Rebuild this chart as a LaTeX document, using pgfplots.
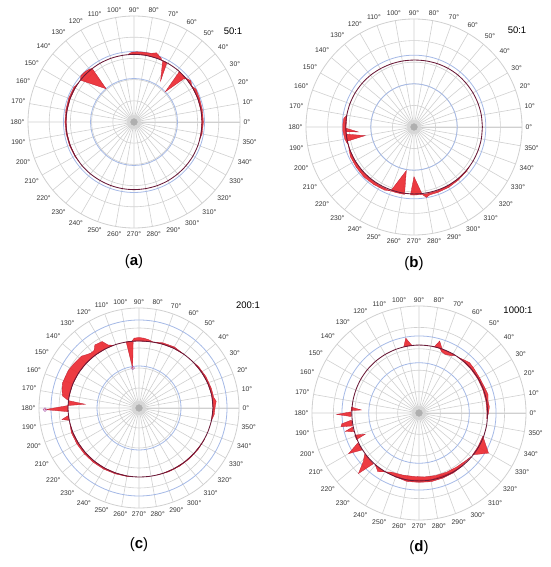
\documentclass[border=0pt]{standalone}
\usepackage{fontspec}
\setmainfont{Liberation Sans}
\usepackage{pgfplots}
\pgfplotsset{compat=1.18}
\usepgfplotslibrary{polar}
\definecolor{redfill}{RGB}{235,38,45}
\definecolor{rededge}{RGB}{190,30,50}
\definecolor{ringcol}{RGB}{105,25,55}
\definecolor{bluegrid}{RGB}{165,185,230}
\definecolor{greygrid}{RGB}{208,208,208}
\definecolor{blobA}{RGB}{215,215,215}
\definecolor{blobB}{RGB}{175,175,175}
\pgfplotsset{
  panel/.style={
    anchor=center, scale only axis,
    ymin=0, ymax=1,
    xtick={0,10,...,350},
    xticklabel={\pgfmathprintnumber{\tick}°},
    ytick={0.2,0.4,0.6,0.8},
    yticklabels={},
    grid=major,
    major grid style={greygrid, line width=0.6pt},
    axis line style={greygrid, line width=0.8pt},
    major tick length=0pt,
    tick label style={font=\fontsize{6.8}{7}\selectfont, text=black!80},
    /pgf/number format/assume math mode=true,
    extra y tick labels={},
    extra y tick style={grid=major, major grid style={bluegrid, line width=0.8pt}},
    clip=false,
  },
  dev/.style={fill=redfill, draw=rededge, line width=0.3pt, fill opacity=0.9},
  ring/.style={ringcol, line width=0.85pt, smooth},
  blob/.style={only marks, mark=*, color=blobA, mark size=6.5pt},
  blob2/.style={only marks, mark=*, color=blobB, mark size=3.4pt},
  tipmark/.style={only marks, mark=o, mark size=1.8pt, mark options={draw=violet!60, line width=0.5pt}},
}
\begin{document}
\begin{tikzpicture}
\useasboundingbox (0,0) rectangle (550pt,567pt);

% ---------------- (a) ----------------
\begin{polaraxis}[panel, at={(134pt,445pt)}, width=212pt, height=212pt,
  extra y ticks={0.41,0.665}]
\addplot[blob] coordinates {(0,0)};
\addplot[blob2] coordinates {(0,0)};
\addplot[dev] coordinates {(95,0.64) (92,0.658) (88,0.662) (84,0.664) (80,0.665) (76,0.668) (72,0.686) (70,0.672) (67,0.655) (66,0.64) (70,0.64) (80,0.64) (90,0.64) (95,0.64)};
\addplot[dev] coordinates {(65,0.64) (57,0.46) (61,0.64) (65,0.64)};
\addplot[dev] coordinates {(48,0.64) (44,0.41) (41,0.62) (39,0.648) (36,0.662) (33,0.648) (30,0.64) (40,0.64) (48,0.64)};
\addplot[dev] coordinates {(128,0.64) (130,0.41) (142,0.64) (139,0.665) (134,0.662) (130,0.652) (128,0.64)};
\addplot[dev] coordinates {(145,0.64) (150,0.655) (160,0.656) (170,0.653) (180,0.652) (190,0.65) (200,0.648) (210,0.645) (215,0.64) (210,0.64) (200,0.64) (190,0.64) (180,0.64) (170,0.64) (160,0.64) (150,0.64) (145,0.64)};
\addplot[dev] coordinates {(-15,0.64) (-10,0.652) (0,0.655) (10,0.655) (20,0.657) (28,0.662) (32,0.64) (30,0.64) (20,0.64) (10,0.64) (0,0.64) (-10,0.64) (-15,0.64)};
\addplot[ring] coordinates {(0,0.642) (10,0.642) (20,0.641) (30,0.64) (40,0.64) (50,0.64) (60,0.639) (70,0.638) (80,0.638) (90,0.638) (100,0.638) (110,0.639) (120,0.64) (130,0.64) (140,0.641) (150,0.642) (160,0.642) (170,0.642) (180,0.642) (190,0.642) (200,0.641) (210,0.64) (220,0.64) (230,0.639) (240,0.638) (250,0.638) (260,0.638) (270,0.638) (280,0.638) (290,0.639) (300,0.64) (310,0.64) (320,0.641) (330,0.642) (340,0.642) (350,0.642) (360,0.642)};
\end{polaraxis}

% ---------------- (b) ----------------
\begin{polaraxis}[panel, at={(414pt,440pt)}, width=216pt, height=216pt,
  extra y ticks={0.40,0.665}]
\addplot[blob] coordinates {(0,0)};
\addplot[blob2] coordinates {(0,0)};
\addplot[dev] coordinates {(170,0.63) (173,0.655) (178,0.66) (183,0.66) (186,0.655) (190,0.65) (193,0.64) (195,0.63) (190,0.63) (180,0.63) (170,0.63)};
\addplot[dev] coordinates {(181,0.63) (185,0.52) (184,0.63) (181,0.63)};
\addplot[dev] coordinates {(186,0.63) (190,0.46) (192,0.63) (186,0.63)};
\addplot[dev] coordinates {(195,0.63) (205,0.65) (215,0.652) (225,0.655) (235,0.65) (245,0.645) (250,0.63) (240,0.63) (230,0.63) (220,0.63) (210,0.63) (200,0.63) (195,0.63)};
\addplot[dev] coordinates {(250,0.63) (260,0.41) (262,0.63) (255,0.63) (250,0.63)};
\addplot[dev] coordinates {(267,0.63) (270,0.46) (277,0.63) (270,0.63) (267,0.63)};
\addplot[dev] coordinates {(277,0.63) (280,0.662) (283,0.645) (290,0.645) (300,0.645) (310,0.64) (320,0.636) (325,0.63) (320,0.63) (310,0.63) (300,0.63) (290,0.63) (280,0.63) (277,0.63)};
\addplot[ring] coordinates {(0,0.633) (10,0.633) (20,0.632) (30,0.631) (40,0.63) (50,0.63) (60,0.628) (70,0.625) (80,0.622) (90,0.62) (100,0.62) (110,0.621) (120,0.623) (130,0.626) (140,0.628) (150,0.63) (160,0.631) (170,0.632) (180,0.632) (190,0.631) (200,0.63) (210,0.628) (220,0.626) (230,0.624) (240,0.622) (250,0.62) (260,0.62) (270,0.62) (280,0.621) (290,0.623) (300,0.626) (310,0.628) (320,0.63) (330,0.631) (340,0.632) (350,0.633) (360,0.633)};
\end{polaraxis}

% ---------------- (c) ----------------
\begin{polaraxis}[panel, at={(139pt,159pt)}, width=200pt, height=200pt,
  extra y ticks={0.42,0.88}]
\addplot[blob] coordinates {(0,0)};
\addplot[blob2] coordinates {(0,0)};
\addplot[dev] coordinates {(95,0.671) (99,0.405) (101,0.673) (95,0.671)};
\addplot[dev] coordinates {(78,0.675) (82,0.69) (86,0.70) (90,0.705) (94,0.70) (96,0.672) (90,0.67) (80,0.672) (78,0.675)};
\addplot[dev] coordinates {(50,0.70) (60,0.706) (70,0.694) (78,0.675) (70,0.68) (60,0.69) (50,0.70)};
\addplot[dev] coordinates {(112,0.677) (116,0.70) (119,0.76) (125,0.77) (128,0.73) (131,0.73) (134,0.745) (138,0.775) (142,0.78) (147,0.79) (152,0.80) (157,0.80) (162,0.805) (167,0.79) (171,0.775) (173,0.73) (174,0.709) (170,0.708) (160,0.704) (150,0.698) (140,0.692) (130,0.686) (120,0.68) (112,0.677)};
\addplot[dev] coordinates {(174,0.709) (176,0.54) (178,0.71) (174,0.709)};
\addplot[dev] coordinates {(178,0.71) (181,0.94) (183,0.71) (178,0.71)};
\addplot[dev] coordinates {(186,0.709) (188.5,0.78) (190,0.708) (186,0.709)};
\addplot[dev] coordinates {(-10,0.735) (-5,0.755) (0,0.76) (5,0.775) (8,0.755) (15,0.75) (25,0.74) (35,0.725) (40,0.71) (30,0.72) (20,0.73) (10,0.738) (0,0.74) (-10,0.735)};
\addplot[dev] coordinates {(192,0.708) (200,0.72) (210,0.718) (220,0.714) (230,0.71) (240,0.706) (250,0.70) (260,0.695) (265,0.69) (260,0.69) (250,0.69) (240,0.692) (230,0.694) (220,0.697) (210,0.70) (200,0.705) (192,0.708)};
\addplot[dev] coordinates {(285,0.694) (295,0.704) (305,0.71) (315,0.716) (325,0.722) (335,0.728) (330,0.72) (320,0.712) (310,0.706) (300,0.70) (290,0.696) (285,0.694)};
\addplot[tipmark] coordinates {(99,0.405) (181,0.94)};
\addplot[ring] coordinates {(0,0.74) (10,0.738) (20,0.73) (30,0.72) (40,0.71) (50,0.70) (60,0.69) (70,0.68) (80,0.672) (90,0.67) (100,0.672) (110,0.676) (120,0.68) (130,0.686) (140,0.692) (150,0.698) (160,0.704) (170,0.708) (180,0.71) (190,0.708) (200,0.705) (210,0.70) (220,0.697) (230,0.694) (240,0.692) (250,0.69) (260,0.69) (270,0.69) (280,0.692) (290,0.696) (300,0.70) (310,0.706) (320,0.712) (330,0.72) (340,0.728) (350,0.735) (360,0.74)};
\end{polaraxis}

% ---------------- (d) ----------------
\begin{polaraxis}[panel, at={(419pt,154pt)}, width=214pt, height=214pt,
  extra y ticks={0.47,0.72}]
\addplot[blob] coordinates {(0,0)};
\addplot[blob2] coordinates {(0,0)};
\addplot[dev] coordinates {(96,0.635) (100,0.71) (103,0.635) (96,0.635)};
\addplot[dev] coordinates {(70,0.635) (74,0.70) (77,0.635) (70,0.635)};
\addplot[dev] coordinates {(58,0.635) (62,0.61) (66,0.60) (70,0.612) (72,0.635) (65,0.635) (58,0.635)};
\addplot[dev] coordinates {(-5,0.635) (0,0.65) (5,0.66) (10,0.655) (15,0.668) (20,0.66) (30,0.655) (40,0.662) (45,0.667) (50,0.65) (55,0.635) (50,0.635) (40,0.635) (30,0.635) (20,0.635) (10,0.635) (0,0.635) (-5,0.635)};
\addplot[dev] coordinates {(322,0.635) (330,0.75) (340,0.635) (330,0.635) (322,0.635)};
\addplot[dev] coordinates {(240,0.635) (245,0.61) (255,0.60) (265,0.595) (275,0.60) (285,0.605) (295,0.61) (305,0.615) (315,0.625) (320,0.635) (310,0.635) (300,0.635) (290,0.635) (280,0.635) (270,0.635) (260,0.635) (250,0.635) (240,0.635)};
\addplot[dev] coordinates {(250,0.635) (260,0.65) (270,0.648) (280,0.652) (290,0.648) (300,0.645) (310,0.64) (300,0.635) (280,0.635) (260,0.635) (250,0.635)};
\addplot[dev] coordinates {(175,0.635) (177,0.54) (178,0.635) (175,0.635)};
\addplot[dev] coordinates {(179,0.635) (181,0.77) (183,0.635) (179,0.635)};
\addplot[dev] coordinates {(186,0.635) (188,0.73) (190,0.74) (191,0.635) (186,0.635)};
\addplot[dev] coordinates {(192,0.635) (194,0.71) (196,0.635) (192,0.635)};
\addplot[dev] coordinates {(199,0.635) (201.5,0.54) (203,0.635) (199,0.635)};
\addplot[dev] coordinates {(206,0.635) (210,0.76) (213,0.635) (206,0.635)};
\addplot[dev] coordinates {(217,0.635) (221,0.69) (225,0.80) (228,0.64) (222,0.635) (217,0.635)};
\addplot[dev] coordinates {(230,0.635) (235,0.67) (240,0.635) (235,0.635) (230,0.635)};
\addplot[ring] coordinates {(0,0.642) (10,0.642) (20,0.641) (30,0.64) (40,0.639) (50,0.638) (60,0.637) (70,0.636) (80,0.635) (90,0.635) (100,0.634) (110,0.633) (120,0.632) (130,0.631) (140,0.63) (150,0.629) (160,0.628) (170,0.628) (180,0.628) (190,0.628) (200,0.629) (210,0.63) (220,0.631) (230,0.632) (240,0.633) (250,0.634) (260,0.635) (270,0.635) (280,0.636) (290,0.637) (300,0.638) (310,0.639) (320,0.64) (330,0.641) (340,0.642) (350,0.642) (360,0.642)};
\end{polaraxis}

% captions and ratios
\node[font=\fontsize{15}{18}\selectfont] at (134pt,305pt) {(\textbf{a})};
\node[font=\fontsize{15}{18}\selectfont] at (414pt,303pt) {(\textbf{b})};
\node[font=\fontsize{15}{18}\selectfont] at (139pt,22pt) {(\textbf{c})};
\node[font=\fontsize{15}{18}\selectfont] at (419pt,19pt) {(\textbf{d})};
\node[font=\fontsize{9.5}{11}\selectfont] at (233pt,536pt) {50:1};
\node[font=\fontsize{9.5}{11}\selectfont] at (517pt,537pt) {50:1};
\node[font=\fontsize{9.5}{11}\selectfont] at (248pt,262pt) {200:1};
\node[font=\fontsize{9.5}{11}\selectfont] at (518pt,257pt) {1000:1};
\end{tikzpicture}
\end{document}
